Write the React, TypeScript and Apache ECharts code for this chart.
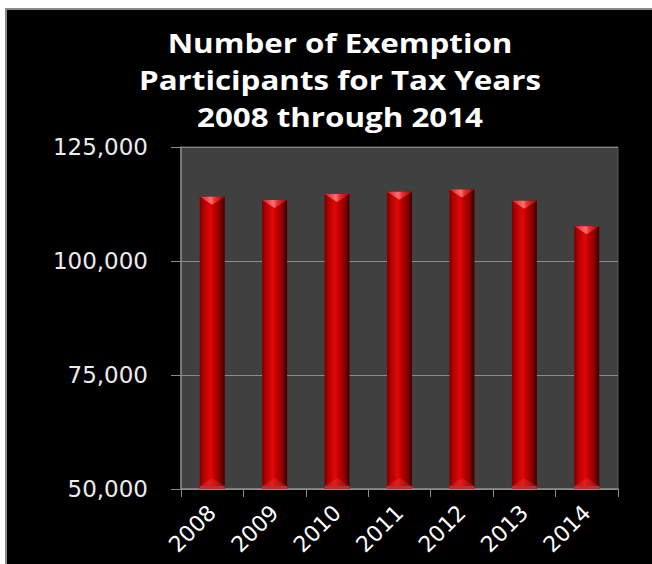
import React, { useEffect, useRef } from "react";
import * as echarts from "echarts";

const titleLines = ["Number of Exemption", "Participants for Tax Years", "2008 through 2014"];
const years = ["2008", "2009", "2010", "2011", "2012", "2013", "2014"];
const participants = [114100, 113400, 114700, 115200, 115700, 113200, 107600];
const yMin = 50000;
const yMax = 125000;
const yStep = 25000;

export default function App() {
  const ref = useRef<HTMLDivElement>(null);
  useEffect(() => {
    if (!ref.current) return;
    const chart = echarts.init(ref.current, undefined, { renderer: "svg" });
    const bodyGrad = {
      type: "linear", x: 0, y: 0, x2: 1, y2: 0,
      colorStops: [
        { offset: 0, color: "#7a0000" },
        { offset: 0.15, color: "#b00000" },
        { offset: 0.42, color: "#e00808" },
        { offset: 0.55, color: "#c80000" },
        { offset: 0.8, color: "#8a0000" },
        { offset: 1, color: "#3c0000" },
      ],
    };
    const capGrad = {
      type: "linear", x: 0, y: 0, x2: 1, y2: 0,
      colorStops: [
        { offset: 0, color: "#c81818" },
        { offset: 0.45, color: "#ff7070" },
        { offset: 0.6, color: "#e83030" },
        { offset: 1, color: "#a00000" },
      ],
    };
    const titleTexts = titleLines.map((line, i) => ({
      type: "text",
      x: 340,
      y: 43 + i * 36.7,
      scaleX: 1.16,
      style: {
        text: line,
        fill: "#ffffff",
        font: "bold 27px 'Open Sans'",
        align: "center",
        verticalAlign: "middle",
      },
    }));
    chart.setOption({
      animation: false,
      backgroundColor: "#000000",
      graphic: [
        { type: "rect", shape: { x: 0, y: 0, width: 652, height: 8 }, style: { fill: "#ffffff" } },
        { type: "rect", shape: { x: 0, y: 0, width: 5, height: 564 }, style: { fill: "#ffffff" } },
        { type: "line", shape: { x1: 5, y1: 9, x2: 652, y2: 9 }, style: { stroke: "#8a8a8a", lineWidth: 2 } },
        { type: "line", shape: { x1: 6, y1: 9, x2: 6, y2: 564 }, style: { stroke: "#8a8a8a", lineWidth: 2 } },
        ...titleTexts,
      ],
      grid: {
        left: 181,
        right: 34,
        top: 147,
        bottom: 75,
        show: true,
        backgroundColor: "#404040",
        borderColor: "#5a5a5a",
        borderWidth: 1,
      },
      xAxis: {
        type: "category",
        data: years,
        boundaryGap: true,
        axisLine: { show: true, lineStyle: { color: "#8c8c8c", width: 1.5 } },
        axisTick: { show: true, length: 8, lineStyle: { color: "#8c8c8c" } },
        axisLabel: {
          color: "#ffffff",
          fontFamily: "DejaVu Sans",
          fontSize: 22,
          rotate: 45,
          margin: 20,
        },
      },
      yAxis: {
        type: "value",
        min: yMin,
        max: yMax,
        interval: yStep,
        axisLine: { show: true, lineStyle: { color: "#8c8c8c", width: 1.5 } },
        axisTick: { show: true, length: 10, lineStyle: { color: "#8c8c8c" } },
        splitLine: { show: true, lineStyle: { color: "#8a8a8a", width: 1 } },
        axisLabel: {
          color: "#ececec",
          fontFamily: "DejaVu Sans",
          fontSize: 23,
          margin: 33,
          formatter: (v: number) => v.toLocaleString("en-US"),
        },
      },
      series: [
        {
          type: "custom",
          data: years.map((_, i) => [i, participants[i]]),
          encode: { x: 0, y: 1 },
          renderItem: (params: any, api: any) => {
            const idx = api.value(0);
            const val = api.value(1);
            const top = api.coord([idx, val]);
            const base = api.coord([idx, yMin]);
            const w = api.size([1, 0])[0] * 0.4;
            const x = top[0] - w / 2;
            const capH = w * 0.32;
            return {
              type: "group",
              children: [
                { type: "rect", shape: { x, y: top[1], width: w, height: base[1] - top[1] }, style: { fill: bodyGrad } },
                { type: "polygon", shape: { points: [[x, top[1]], [x + w, top[1]], [top[0], top[1] + capH]] }, style: { fill: capGrad } },
                { type: "polygon", shape: { points: [[x, base[1] - 3], [x + w, base[1] - 3], [top[0], base[1] - 3 - capH]] }, style: { fill: "rgba(255,120,120,0.18)" } },
                { type: "rect", shape: { x, y: base[1] - 3, width: w, height: 3 }, style: { fill: "#b83030" } },
              ],
            };
          },
        },
      ],
    });
    return () => chart.dispose();
  }, []);
  return <div ref={ref} style={{ position: "fixed", left: 0, top: 0, width: 652, height: 564 }} />;
}
